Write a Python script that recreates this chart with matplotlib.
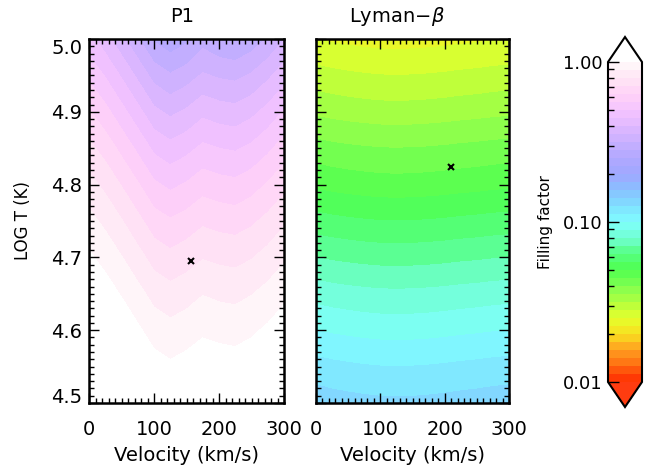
import numpy as np
import matplotlib
matplotlib.use('Agg')
import matplotlib.pyplot as plt
from matplotlib.colors import LinearSegmentedColormap
from matplotlib.ticker import MultipleLocator, FixedLocator

plt.rcParams['font.family'] = ['DejaVu Sans']

# grid
velocity = [0, 25, 50, 75, 100, 125, 150, 175, 200, 225, 250, 275, 300]
log_t = [4.50, 4.55, 4.60, 4.65, 4.70, 4.75, 4.80, 4.85, 4.90, 4.95, 5.00]

# log10(filling factor), P1 (rows = log_t, cols = velocity)
p1_logff = [
    [0.17, 0.14, 0.12, 0.09, 0.06, 0.05, 0.06, 0.07, 0.07, 0.06, 0.07, 0.09, 0.11],
    [0.13, 0.10, 0.08, 0.05, 0.02, 0.008, 0.018, 0.03, 0.026, 0.022, 0.03, 0.05, 0.07],
    [0.09, 0.06, 0.04, 0.008, -0.021, -0.034, -0.023, -0.008, -0.015, -0.018, -0.008, 0.008, 0.028],
    [0.05, 0.024, -0.004, -0.034, -0.067, -0.082, -0.070, -0.052, -0.060, -0.064, -0.052, -0.034, -0.012],
    [0.008, -0.017, -0.048, -0.082, -0.119, -0.136, -0.122, -0.103, -0.111, -0.115, -0.103, -0.082, -0.057],
    [-0.034, -0.062, -0.097, -0.136, -0.177, -0.195, -0.180, -0.159, -0.168, -0.173, -0.159, -0.136, -0.108],
    [-0.082, -0.113, -0.153, -0.195, -0.241, -0.261, -0.245, -0.221, -0.231, -0.237, -0.221, -0.195, -0.165],
    [-0.136, -0.171, -0.214, -0.261, -0.311, -0.333, -0.315, -0.289, -0.300, -0.306, -0.289, -0.261, -0.227],
    [-0.195, -0.234, -0.282, -0.333, -0.387, -0.411, -0.392, -0.363, -0.376, -0.382, -0.363, -0.333, -0.296],
    [-0.261, -0.304, -0.356, -0.411, -0.469, -0.495, -0.474, -0.444, -0.457, -0.463, -0.444, -0.411, -0.371],
    [-0.333, -0.379, -0.435, -0.495, -0.557, -0.584, -0.562, -0.520, -0.544, -0.555, -0.530, -0.495, -0.452],
]

# log10(filling factor), Lyman-beta
lyb_logff = [
    [-0.870, -0.877, -0.882, -0.886, -0.889, -0.890, -0.889, -0.887, -0.884, -0.880, -0.877, -0.873, -0.870],
    [-0.930, -0.937, -0.942, -0.946, -0.949, -0.950, -0.949, -0.947, -0.944, -0.940, -0.937, -0.933, -0.930],
    [-1.000, -1.007, -1.012, -1.016, -1.019, -1.020, -1.019, -1.017, -1.014, -1.010, -1.007, -1.003, -1.000],
    [-1.070, -1.077, -1.082, -1.086, -1.089, -1.090, -1.089, -1.087, -1.084, -1.080, -1.077, -1.073, -1.070],
    [-1.150, -1.157, -1.162, -1.166, -1.169, -1.170, -1.169, -1.167, -1.164, -1.160, -1.157, -1.153, -1.150],
    [-1.230, -1.237, -1.242, -1.246, -1.249, -1.250, -1.249, -1.247, -1.244, -1.240, -1.237, -1.233, -1.230],
    [-1.310, -1.317, -1.322, -1.326, -1.329, -1.330, -1.329, -1.327, -1.324, -1.320, -1.317, -1.313, -1.310],
    [-1.380, -1.387, -1.392, -1.396, -1.399, -1.400, -1.399, -1.397, -1.394, -1.390, -1.387, -1.383, -1.380],
    [-1.460, -1.467, -1.472, -1.476, -1.479, -1.480, -1.479, -1.477, -1.474, -1.470, -1.467, -1.463, -1.460],
    [-1.530, -1.537, -1.542, -1.546, -1.549, -1.550, -1.549, -1.547, -1.544, -1.540, -1.537, -1.533, -1.530],
    [-1.600, -1.607, -1.612, -1.616, -1.619, -1.620, -1.619, -1.617, -1.614, -1.610, -1.607, -1.603, -1.600],
]

# best-fit marks
p1_best = (157, 4.695)
lyb_best = (210, 4.824)

titles = ['P1', r'Lyman$-\beta$']
title_x = [0.477, 0.42]
cbar_ticks = [0.01, 0.10, 1.00]

# colour table: red -> yellow -> green -> cyan -> blue -> pink -> white
cmap = LinearSegmentedColormap.from_list('ff', [
    (0.00, '#ff2a00'), (0.05, '#ff6a10'), (0.10, '#ffa020'), (0.15, '#f8e020'),
    (0.20, '#e4ff2c'), (0.25, '#b0ff40'), (0.30, '#80ff50'), (0.35, '#50ff50'),
    (0.40, '#55ff80'), (0.45, '#70ffd0'), (0.50, '#80ffff'), (0.55, '#80e0ff'),
    (0.60, '#88c0ff'), (0.65, '#a0a8ff'), (0.70, '#b0a8ff'), (0.75, '#c8b0ff'),
    (0.80, '#e0b8ff'), (0.85, '#f4c4ff'), (0.90, '#ffd2f8'), (0.95, '#ffe4f4'),
    (1.00, '#fffafa')])
cmap.set_over('white')
cmap.set_under('#ff3c10')
levels = np.linspace(-2, 0, 41)

fig = plt.figure(figsize=(6.65, 4.7), dpi=100)
ax1 = fig.add_axes([89/665, 1-403/470, 195/665, 364/470])
ax2 = fig.add_axes([316/665, 1-403/470, 193/665, 364/470])
cax = fig.add_axes([608/665, 1-407/470, 34/665, 370/470])

for ax, z, best, title, tx in zip([ax1, ax2], [p1_logff, lyb_logff], [p1_best, lyb_best], titles, title_x):
    cs = ax.contourf(velocity, log_t, np.array(z), levels=levels, cmap=cmap, extend='both')
    ax.plot(best[0], best[1], marker='x', color='k', ms=4, mew=1.5)
    ax.set_xlim(0, 300)
    ax.set_ylim(4.5, 5.0)
    ax.set_title(title, fontsize=14, pad=12, x=tx)
    ax.set_xlabel('Velocity (km/s)', fontsize=14, labelpad=5)
    ax.xaxis.set_major_locator(MultipleLocator(100))
    ax.xaxis.set_minor_locator(MultipleLocator(10))
    ax.yaxis.set_major_locator(MultipleLocator(0.1))
    ax.yaxis.set_minor_locator(MultipleLocator(0.01))
    ax.tick_params(which='both', direction='in', top=True, right=True, width=1)
    ax.tick_params(which='major', length=7, labelsize=14)
    ax.tick_params(which='minor', length=3.5)
    ax.tick_params(axis='x', pad=12)
    ax.tick_params(axis='y', pad=5)
    for s in ax.spines.values():
        s.set_linewidth(1.8)

ax1.set_yticks(log_t[::2])
ax1.set_yticklabels(['%.1f' % t for t in log_t[::2]])
ylabs = ax1.get_yticklabels()
ylabs[0].set_va('baseline')
ylabs[-1].set_va('top')
ax1.set_ylabel('LOG T (K)', fontsize=12)
ax1.yaxis.set_label_coords(-0.29, 0.5)
ax2.set_yticklabels([])

cb = fig.colorbar(cs, cax=cax, extendfrac=25/320, drawedges=False)
cb.outline.set_linewidth(1.5)
cb.set_ticks(np.log10(cbar_ticks))
cb.set_ticklabels(['%.2f' % t for t in cbar_ticks])
minor = [np.log10(k * 10.0**d) for d in (-2, -1) for k in range(2, 10)]
cax.yaxis.set_minor_locator(FixedLocator(minor))
cax.yaxis.set_ticks_position('left')
cax.yaxis.set_label_position('left')
cax.tick_params(which='both', direction='in', left=True, right=False, width=1)
cax.tick_params(which='major', length=8, labelsize=13, pad=4)
cax.tick_params(which='minor', length=4)
cb.set_label('Filling factor', fontsize=11)
cax.yaxis.set_label_coords(-1.62, 0.5)

fig.savefig('out.png', dpi=100)
